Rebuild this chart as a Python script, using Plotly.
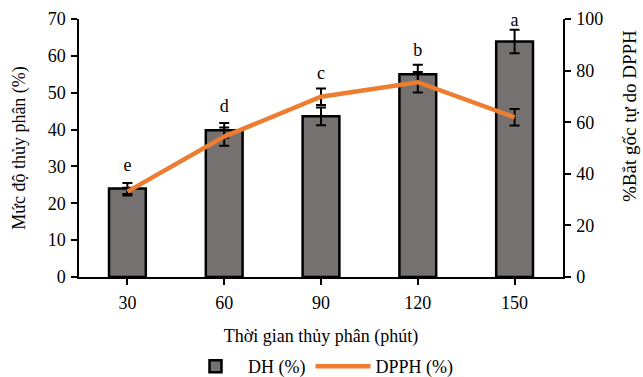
import plotly.graph_objects as go

categories = ["30", "60", "90", "120", "150"]
dh_values = [24.0, 39.8, 43.6, 55.0, 63.9]
dh_errors = [1.5, 2.0, 2.4, 2.6, 3.2]
dpph_values = [33.1, 54.4, 69.9, 75.5, 61.9]
dpph_errors = [1.5, 3.5, 3.2, 4.0, 3.2]
letters = ["e", "d", "c", "b", "a"]
letter_y = [29.9, 45.9, 54.9, 61.1, 69.4]

FONT = "Liberation Serif"

fig = go.Figure()
fig.add_trace(go.Bar(
    x=categories, y=dh_values, name="DH (%)",
    marker=dict(color="#767171", line=dict(color="black", width=2.5)),
    width=0.38,
    error_y=dict(type="data", array=dh_errors, color="black", thickness=2, width=5),
))
fig.add_trace(go.Scatter(
    x=categories, y=dpph_values, name="DPPH (%)", yaxis="y2", mode="lines",
    line=dict(color="#ED7D31", width=4.5),
    error_y=dict(type="data", array=dpph_errors, color="black", thickness=2, width=5),
))
fig.add_trace(go.Scatter(
    x=categories, y=letter_y, text=letters, mode="text", showlegend=False,
    textfont=dict(family=FONT, size=18, color="black"), hoverinfo="skip", cliponaxis=False,
))

axis_common = dict(showline=True, linecolor="black", linewidth=1.5, ticks="outside",
                   tickcolor="black", ticklen=6, tickwidth=1.5, showgrid=False, zeroline=False,
                   automargin=False,
                   tickfont=dict(family=FONT, size=18, color="black"))

fig.update_layout(
    width=643, height=377,
    margin=dict(l=79, r=80, t=19, b=100),
    paper_bgcolor="white", plot_bgcolor="white",
    font=dict(family=FONT, size=18, color="black"),
    xaxis=dict(**axis_common, type="category", ticklabelstandoff=3,
               title=dict(text="Thời gian thủy phân (phút)", font=dict(family=FONT, size=18), standoff=17)),
    yaxis=dict(**axis_common, range=[0, 70], dtick=10, ticklabelstandoff=2,
               title=dict(text="Mức độ thủy phân (%)", font=dict(family=FONT, size=18), standoff=17)),
    yaxis2=dict(**axis_common, range=[0, 100], dtick=20, overlaying="y", side="right", ticklabelstandoff=2),
    legend=dict(orientation="h", x=0.5, xanchor="center", yref="container", y=0.028, yanchor="middle",
                font=dict(family=FONT, size=18), itemwidth=55, tracegroupgap=0),
    showlegend=True,
)
fig.add_annotation(text="%Bắt gốc tự do DPPH", textangle=-90, showarrow=False,
                   xref="paper", yref="paper", x=1, xshift=66, y=0.624,
                   xanchor="center", yanchor="middle",
                   font=dict(family=FONT, size=19, color="black"))

fig.write_html("out.html", config={"displayModeBar": False})
with open("out.html", "r", encoding="utf-8") as f:
    html = f.read()
html = html.replace("<head>", "<head><style>html,body{margin:0;padding:0;overflow:hidden;}</style>", 1)
with open("out.html", "w", encoding="utf-8") as f:
    f.write(html)
